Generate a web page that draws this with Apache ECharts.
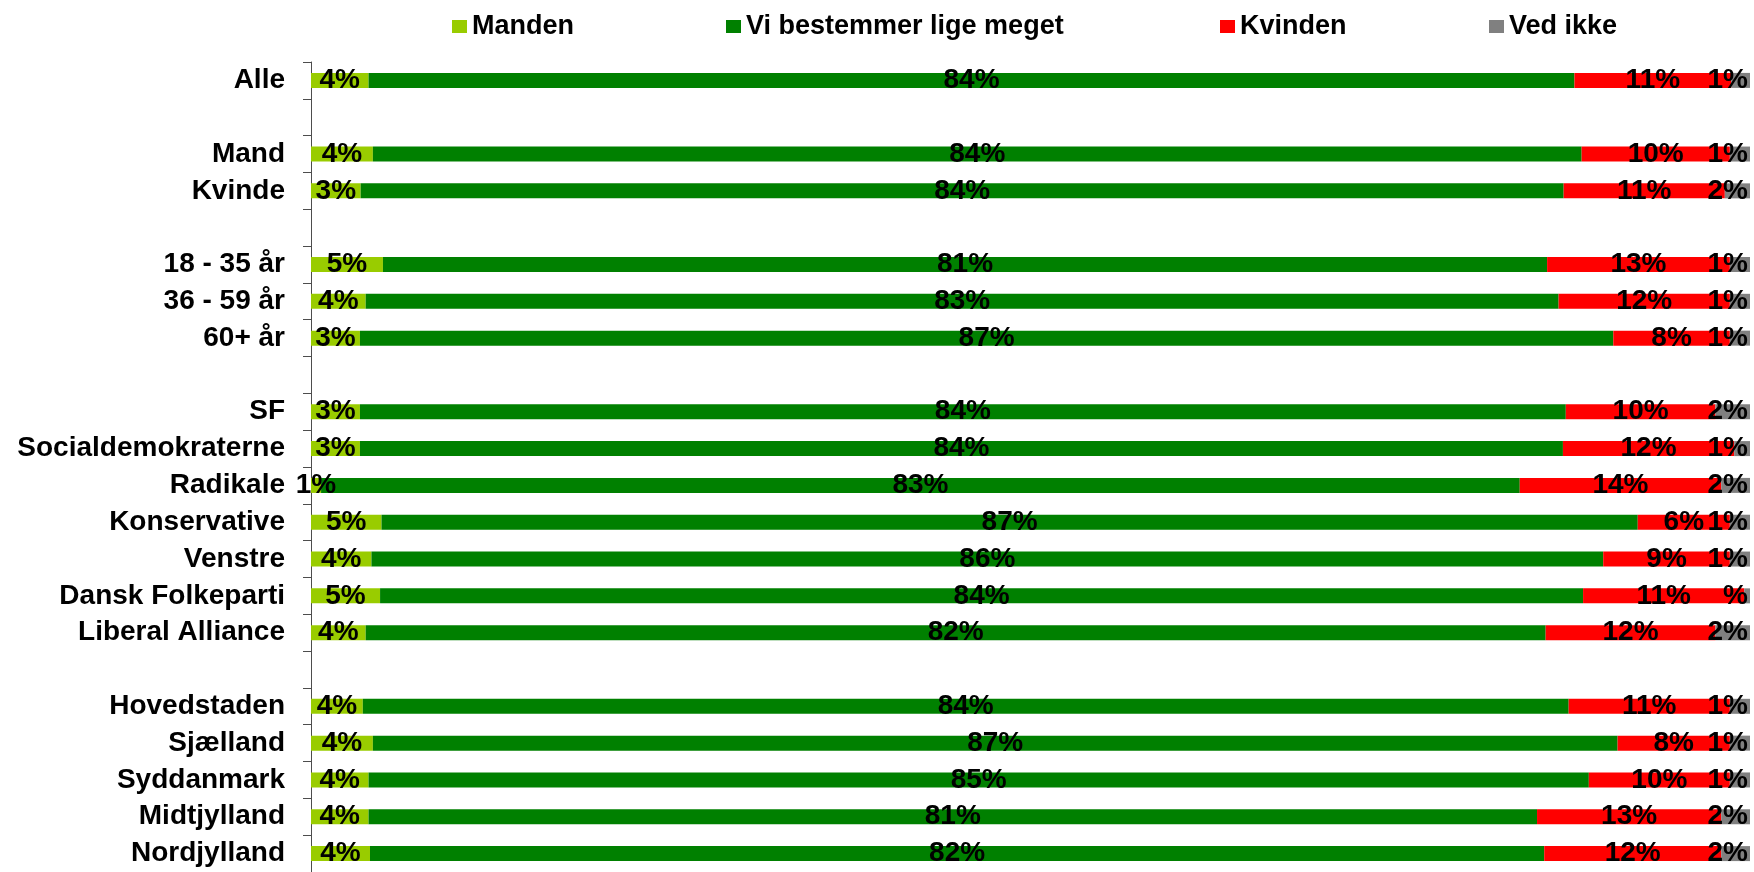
<!DOCTYPE html>
<html>
<head>
<meta charset="utf-8">
<script src="https://cdn.jsdelivr.net/npm/echarts@6/dist/echarts.min.js"></script>
<style>
  html, body { margin: 0; padding: 0; background: #fff; }
  #chart { width: 1754px; height: 872px; }
</style>
</head>
<body>
<div id="chart"></div>
<script>
// rows (blank rows are spacers between groups)
const categories = ['Alle', ' ', 'Mand', 'Kvinde', '  ', '18 - 35 år', '36 - 59 år', '60+ år', '   ',
  'SF', 'Socialdemokraterne', 'Radikale', 'Konservative', 'Venstre', 'Dansk Folkeparti', 'Liberal Alliance', '    ',
  'Hovedstaden', 'Sjælland', 'Syddanmark', 'Midtjylland', 'Nordjylland']

const manden     = [4.0, null, 4.3, 3.45, null, 5.0, 3.8, 3.4, null, 3.4, 3.4, 0.7, 4.9, 4.2, 4.8, 3.8, null, 3.6, 4.3, 4.0, 4.0, 4.1]
const ligeMeget  = [83.8, null, 84.0, 83.6, null, 80.9, 82.9, 87.1, null, 83.8, 83.6, 83.3, 87.3, 85.6, 83.6, 82.0, null, 83.8, 86.5, 84.8, 81.2, 81.6]
const kvinden    = [10.9, null, 10.3, 11.2, null, 12.7, 11.9, 8.1, null, 10.4, 11.9, 14.0, 6.4, 8.8, 11.2, 11.8, null, 11.2, 7.8, 9.8, 12.8, 12.3]
const vedIkke    = [1.3, null, 1.4, 1.75, null, 1.4, 1.4, 1.4, null, 2.4, 1.1, 2.0, 1.4, 1.4, 0.4, 2.4, null, 1.4, 1.4, 1.4, 2.0, 2.0]

const seriesNames = ['Manden', 'Vi bestemmer lige meget', 'Kvinden', 'Ved ikke']
const colors = ['#99cc00', '#008000', '#ff0000', '#808080']
const legendLeft = [447, 721, 1215, 1484]

const font = '"Liberation Sans", Arial, sans-serif'

const pct = p => {
  const r = Math.round(p.value)
  return r > 0 ? r + '%' : '%'
}

const chart = echarts.init(document.getElementById('chart'))

const mkSeries = (name, data, i) => ({
  name, type: 'bar', stack: 'all', data,
  barWidth: 15,
  itemStyle: { color: colors[i] },
  label: {
    show: true,
    position: i === 3 ? 'insideRight' : 'inside',
    distance: 2,
    formatter: pct,
    color: '#000', fontSize: 28, fontWeight: 'bold', fontFamily: font
  }
})

chart.setOption({
  animation: false,
  legend: seriesNames.map((n, i) => ({
    data: [n],
    left: legendLeft[i], top: 8,
    itemWidth: 15, itemHeight: 13,
    icon: 'rect',
    textStyle: { color: '#000', fontSize: 27, fontWeight: 'bold', fontFamily: font }
  })),
  grid: { left: 311, right: 4, top: 62, height: 813 },
  xAxis: { type: 'value', min: 0, max: 100, show: false },
  yAxis: {
    type: 'category', data: categories, inverse: true,
    axisLine: { lineStyle: { color: '#4d4d4d', width: 1 } },
    axisTick: { show: true, length: 8, lineStyle: { color: '#4d4d4d' } },
    axisLabel: { color: '#000', fontSize: 28, fontWeight: 'bold', fontFamily: font, margin: 26, interval: 0 },
    splitLine: { show: false }
  },
  series: [
    mkSeries(seriesNames[0], manden, 0),
    mkSeries(seriesNames[1], ligeMeget, 1),
    mkSeries(seriesNames[2], kvinden, 2),
    mkSeries(seriesNames[3], vedIkke, 3)
  ]
})
</script>
</body>
</html>
